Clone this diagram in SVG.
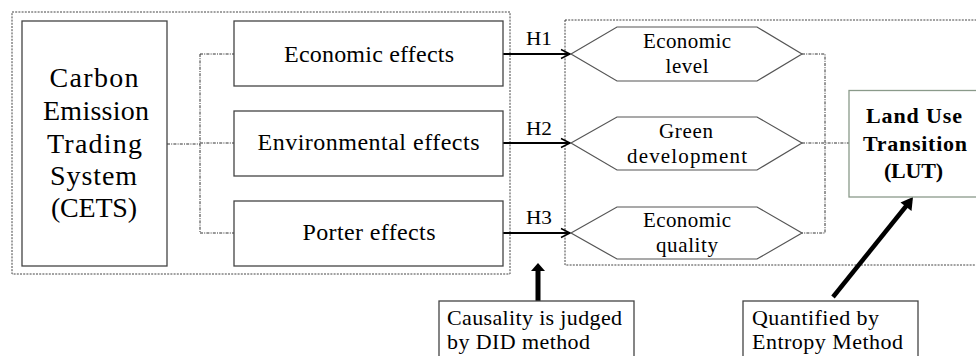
<svg xmlns="http://www.w3.org/2000/svg" width="976" height="356" viewBox="0 0 976 356" font-family="'Liberation Serif', 'DejaVu Serif', serif">
<defs>
<style>
text{font-family:'Liberation Serif','DejaVu Serif',serif;fill:#000;}
.cont{fill:none;stroke:#444;stroke-width:1;stroke-dasharray:2 1.2;}
.dash{fill:none;stroke:#333;stroke-width:1;stroke-dasharray:3 1.2 1 1.2;}
.box{fill:#fff;stroke:#444;stroke-width:1.3;}
.hex{fill:#fff;stroke:#555;stroke-width:1.2;}
.arr{fill:none;stroke:#000;stroke-width:1.8;}
.fx{font-size:24px;text-anchor:middle;}
.cets{font-size:28px;text-anchor:middle;}
.h{font-size:19px;text-anchor:middle;}
.hx{font-size:21px;text-anchor:middle;}
.lut{font-size:22px;font-weight:bold;text-anchor:middle;}
.note{font-size:22px;}
</style>
<marker id="open" markerWidth="12" markerHeight="12" refX="10" refY="6" orient="auto" markerUnits="userSpaceOnUse">
<path d="M1,1.5 L10,6 L1,10.5" fill="none" stroke="#000" stroke-width="1.5"/>
</marker>
</defs>
<rect width="976" height="356" fill="#fff"/>
<rect class="cont" x="12" y="12" width="498" height="262"/>
<rect class="cont" x="565" y="20" width="420" height="245"/>
<g id="connectors">
<path class="dash" d="M167,144 H200 M200,54 V233 M200,54 H234 M200,143 H234 M200,233 H234"/>
<path class="dash" d="M802,54 H825 V233 H802 M802,143 H849"/>
<line class="arr" x1="503" y1="54" x2="570" y2="54" marker-end="url(#open)"/>
<line class="arr" x1="503" y1="143" x2="570" y2="143" marker-end="url(#open)"/>
<line class="arr" x1="503" y1="233" x2="570" y2="233" marker-end="url(#open)"/>
<text class="h" x="539" y="45" textLength="26" lengthAdjust="spacingAndGlyphs">H1</text>
<text class="h" x="539" y="135" textLength="26" lengthAdjust="spacingAndGlyphs">H2</text>
<text class="h" x="539" y="224" textLength="26" lengthAdjust="spacingAndGlyphs">H3</text>
<path d="M535.5,301 V271 H531 L538,263 L545,271 H540.5 V301 Z" fill="#000"/>
<line x1="833" y1="297" x2="907" y2="205" stroke="#000" stroke-width="4.5"/>
<path d="M913,197 L911.5,211 L900.5,202.5 Z" fill="#000"/>
</g>
<g id="cets">
<rect class="box" x="22" y="21" width="145" height="245"/>
<text class="cets" x="94" y="87" textLength="89">Carbon</text>
<text class="cets" x="96" y="120" textLength="106">Emission</text>
<text class="cets" x="94.5" y="153" textLength="95">Trading</text>
<text class="cets" x="93.5" y="185" textLength="87">System</text>
<text class="cets" x="94" y="217" textLength="86">(CETS)</text>
</g>
<g id="economic-effects">
<rect class="box" x="234" y="21" width="269" height="65"/>
<text class="fx" x="369" y="62" textLength="170">Economic effects</text>
</g>
<g id="environmental-effects">
<rect class="box" x="234" y="111" width="269" height="65"/>
<text class="fx" x="368.5" y="150" textLength="222">Environmental effects</text>
</g>
<g id="porter-effects">
<rect class="box" x="234" y="201" width="269" height="65"/>
<text class="fx" x="369" y="240" textLength="133">Porter effects</text>
</g>
<g id="economic-level">
<polygon class="hex" points="571,54 617,27 757,27 802,54 757,81 617,81"/>
<text class="hx" x="687" y="48" textLength="88">Economic</text>
<text class="hx" x="687" y="73" textLength="43">level</text>
</g>
<g id="green-development">
<polygon class="hex" points="571,143 617,117 757,117 802,143 757,170 617,170"/>
<text class="hx" x="686" y="138" textLength="54">Green</text>
<text class="hx" x="687" y="163" textLength="120">development</text>
</g>
<g id="economic-quality">
<polygon class="hex" points="571,233 617,207 757,207 802,233 757,259 617,259"/>
<text class="hx" x="687" y="227" textLength="88">Economic</text>
<text class="hx" x="687" y="252" textLength="62">quality</text>
</g>
<g id="lut">
<rect x="849" y="90.5" width="140" height="106.5" fill="#fff" stroke="#8a9a8a" stroke-width="1.3"/>
<text class="lut" x="914" y="123" textLength="96">Land Use</text>
<text class="lut" x="915" y="151" textLength="104">Transition</text>
<text class="lut" x="913.5" y="178" textLength="59">(LUT)</text>
</g>
<g id="did-note">
<rect class="box" x="439" y="301" width="195" height="70" stroke="#777"/>
<text class="note" x="447" y="325" textLength="175">Causality is judged</text>
<text class="note" x="447" y="349" textLength="143">by DID method</text>
</g>
<g id="entropy-note">
<rect class="box" x="743" y="301" width="175" height="70" stroke="#777"/>
<text class="note" x="752" y="325" textLength="127">Quantified by</text>
<text class="note" x="752" y="349" textLength="151">Entropy Method</text>
</g>
</svg>
